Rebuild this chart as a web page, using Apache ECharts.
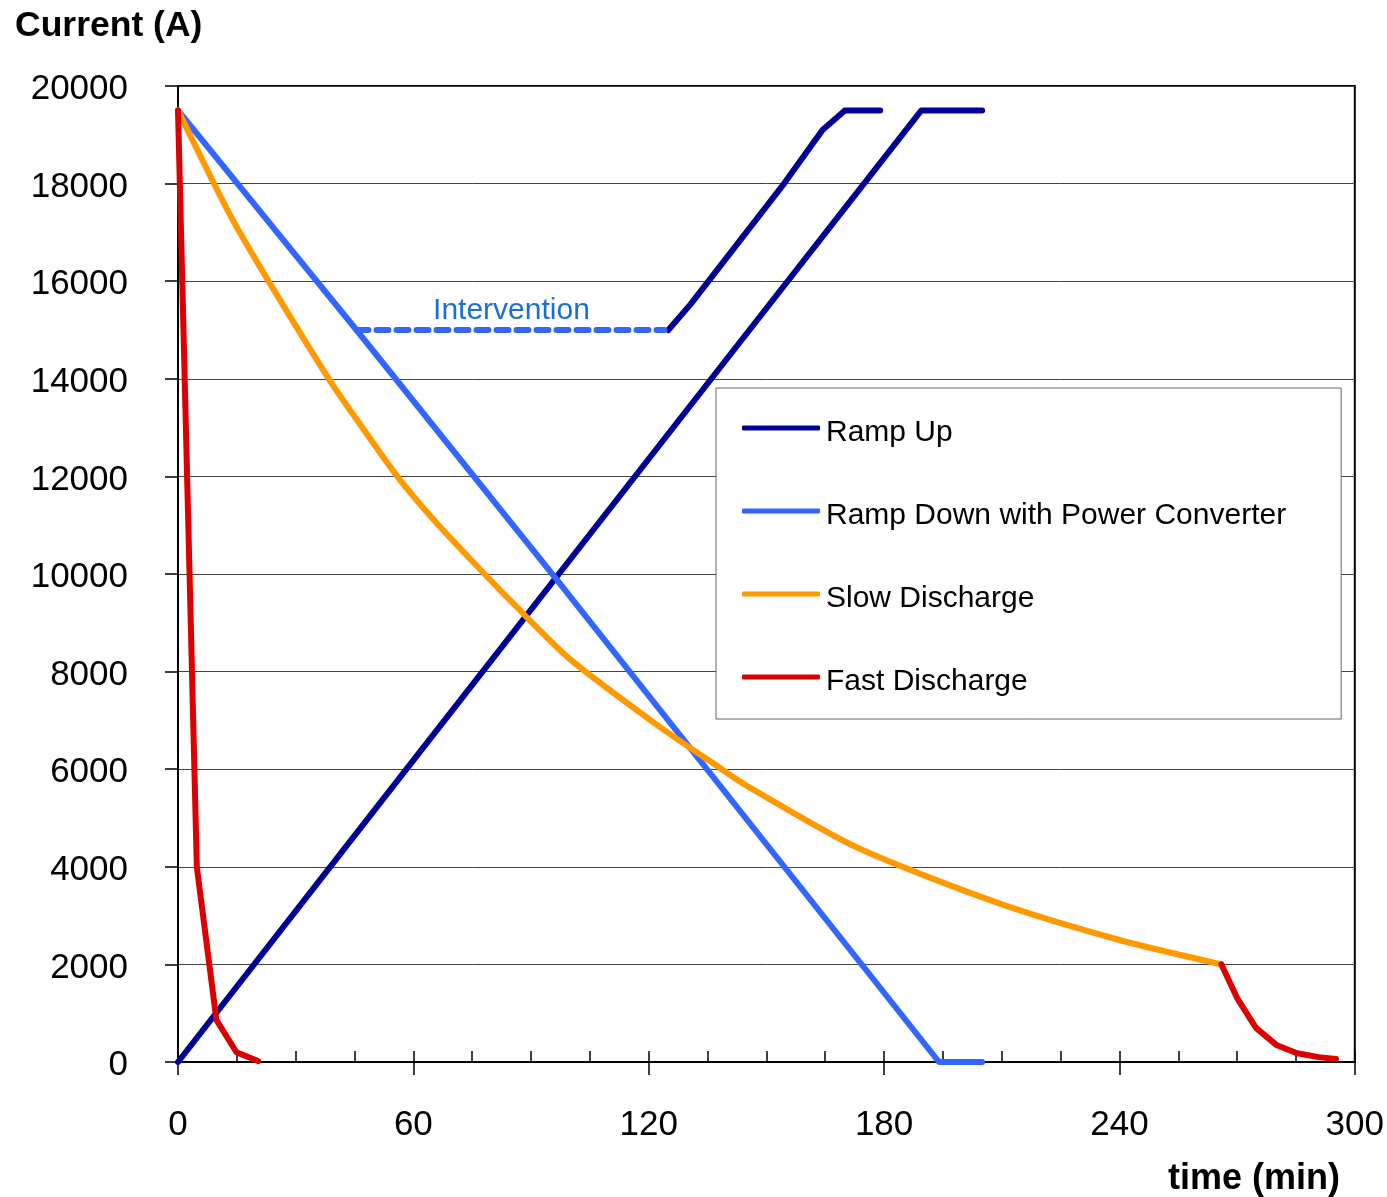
<!DOCTYPE html>
<html>
<head>
<meta charset="utf-8">
<script src="https://cdn.jsdelivr.net/npm/echarts@6/dist/echarts.min.js"></script>
<style>
html,body{margin:0;padding:0;background:#fff;}
#chart{width:1387px;height:1197px;}
</style>
</head>
<body>
<div id="chart"></div>
<script>
// ---- data (time in min, current in A) ----
var rampUp1T = [0, 56.1, 137.5, 189.5, 205];
var rampUp1I = [0, 5780, 14160, 19500, 19500];
var rampUp2T = [125, 130.6, 154.6, 164.3, 170, 179];
var rampUp2I = [15000, 15520, 18010, 19100, 19500, 19500];
var rampDownT = [0, 45.5, 96.4, 194, 205];
var rampDownI = [19500, 15000, 9900, 0, 0];
var interventionT = [45.5, 85, 124];
var interventionI = [15000, 15000, 15000];
var slowT = [0, 8.8, 14, 23.7, 38.6, 45.6, 56.1, 65.3, 75.4, 85.9, 100, 121.9, 136.8, 144.4, 173, 209, 240, 266];
var slowI = [19500, 18060, 17250, 15920, 13980, 13160, 11980, 11100, 10230, 9360, 8250, 6920, 6100, 5690, 4400, 3260, 2500, 2000];
var fast1T = [0, 4.8, 9.8, 14.9, 20.4];
var fast1I = [19500, 4000, 860, 200, 20];
var fast2T = [266, 270, 274.8, 280, 285.3, 290.8, 295.2];
var fast2I = [2000, 1310, 700, 350, 180, 100, 60];
var legendNames = ['Ramp Up', 'Ramp Down with Power Converter', 'Slow Discharge', 'Fast Discharge'];

function pairs(t, v) { return t.map(function (x, i) { return [x, v[i]]; }); }

var FONT = 'Liberation Sans, Arial, sans-serif';
var LW = 6;
var chart = echarts.init(document.getElementById('chart'));

function lineSeries(name, t, v, color, z, smooth) {
  return {
    name: name, type: 'line', data: pairs(t, v), symbol: 'none', z: z,
    smooth: smooth || false,
    lineStyle: { color: color, width: LW, cap: 'round', join: 'round' },
    itemStyle: { color: color }, animation: false, silent: true
  };
}

var interData = pairs(interventionT, interventionI).map(function (p, i) {
  return i === 1 ? { value: p, label: { show: true, formatter: 'Intervention', position: 'top', distance: 4,
    color: '#1a6fd6', fontSize: 30, fontFamily: FONT } } : { value: p };
});

chart.setOption({
  animation: false,
  backgroundColor: '#fff',
  title: [
    { text: 'Current (A)', left: 10, top: 3, textStyle: { fontSize: 35.5, fontWeight: 'bold', color: '#000', fontFamily: FONT } },
    { text: 'time (min)', right: 42, top: 1156, textStyle: { fontSize: 36, fontWeight: 'bold', color: '#000', fontFamily: FONT } }
  ],
  grid: { left: 178, right: 31, top: 86, bottom: 135, show: true, borderColor: '#000', borderWidth: 2, backgroundColor: 'transparent' },
  legend: {
    data: legendNames, orient: 'vertical', left: 716, top: 388,
    padding: [30, 55, 22, 26], itemWidth: 78, itemHeight: 5, itemGap: 53,
    icon: 'roundRect',
    borderColor: '#666', borderWidth: 1, backgroundColor: '#fff',
    formatter: '{t|{name}}',
    textStyle: { fontSize: 30, color: '#000', fontFamily: FONT,
      rich: { t: { fontSize: 30, color: '#000', fontFamily: FONT, padding: [10, 0, 0, 1] } } },
    selectedMode: false
  },
  xAxis: [
    { type: 'value', min: 0, max: 300, interval: 15,
      axisLine: { show: true, lineStyle: { color: '#000', width: 2 } },
      axisTick: { show: true, inside: true, length: 11, lineStyle: { color: '#000', width: 1.5 } },
      axisLabel: { show: false }, splitLine: { show: false } },
    { type: 'value', min: 0, max: 300, interval: 60, position: 'bottom',
      axisLine: { show: false },
      axisTick: { show: true, inside: false, length: 13, lineStyle: { color: '#000', width: 1.5 } },
      axisLabel: { show: true, margin: 46, fontSize: 35, color: '#000', fontFamily: FONT },
      splitLine: { show: false } }
  ],
  yAxis: {
    type: 'value', min: 0, max: 20000, interval: 2000,
    axisLine: { show: true, lineStyle: { color: '#000', width: 2 } },
    axisTick: { show: true, inside: false, length: 13, lineStyle: { color: '#000', width: 1.5 } },
    axisLabel: { margin: 50, fontSize: 35, color: '#000', fontFamily: FONT,
      formatter: function (v) { return '{v|' + v + '}'; },
      rich: { v: { fontSize: 35, color: '#000', fontFamily: FONT, padding: [7, 0, 0, 0] } } },
    splitLine: { show: true, lineStyle: { color: '#444', width: 1 } }
  },
  series: [
    lineSeries('Ramp Up', rampUp1T, rampUp1I, '#000099', 2),
    lineSeries('Ramp Up', rampUp2T, rampUp2I, '#000099', 2),
    lineSeries('Ramp Down with Power Converter', rampDownT, rampDownI, '#3366ff', 3),
    {
      name: 'Intervention', type: 'line', data: interData, symbol: 'circle', symbolSize: 0, showSymbol: true, z: 3,
      itemStyle: { color: '#3366ff' },
      lineStyle: { color: '#3366ff', width: LW, type: [12, 8], cap: 'round' }, animation: false, silent: true
    },
    lineSeries('Slow Discharge', slowT, slowI, '#ff9900', 4, 0.25),
    lineSeries('Fast Discharge', fast1T, fast1I, '#dd0000', 5),
    lineSeries('Fast Discharge', fast2T, fast2I, '#dd0000', 5)
  ]
});
</script>
</body>
</html>
